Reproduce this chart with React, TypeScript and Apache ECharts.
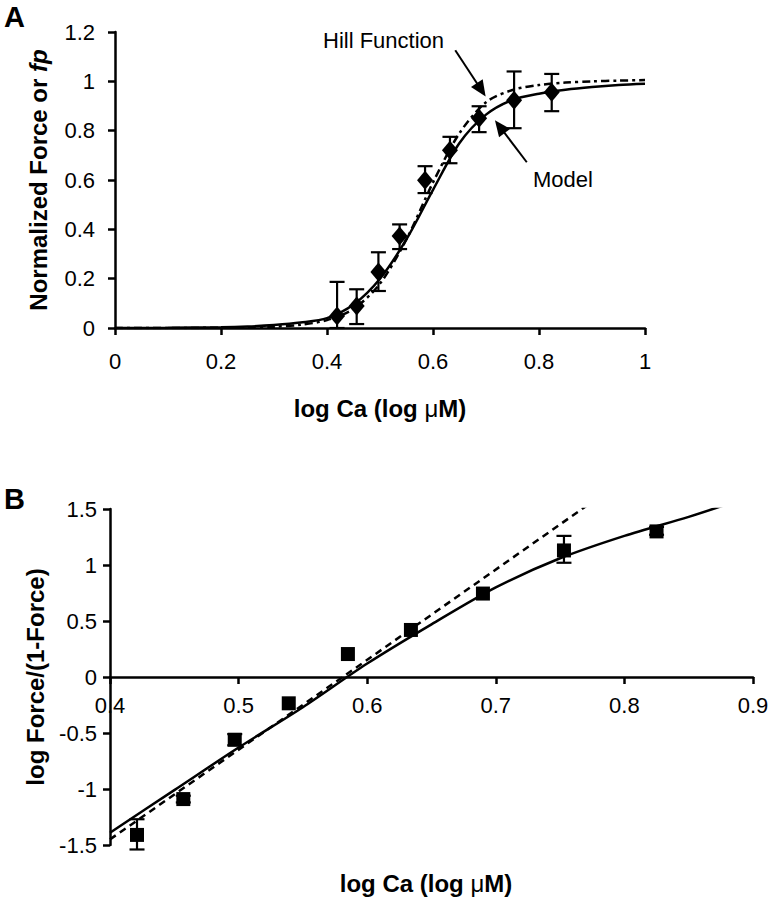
import React, { useEffect, useRef } from "react";
import * as echarts from "echarts";

// ---------- Panel A data ----------
const aX = [0.419, 0.456, 0.497, 0.537, 0.585, 0.632, 0.687, 0.753, 0.824];
const aY = [0.049, 0.089, 0.227, 0.373, 0.599, 0.721, 0.85, 0.923, 0.956];
const aLow = [0, 0.016, 0.15, 0.32, 0.547, 0.668, 0.794, 0.81, 0.879];
const aHigh = [0.187, 0.157, 0.307, 0.42, 0.656, 0.775, 0.899, 1.04, 1.03];

const aCurveX = [0, 0.1, 0.2, 0.25, 0.3, 0.35, 0.4, 0.45, 0.5, 0.55, 0.6, 0.65, 0.7, 0.75, 0.8, 0.85, 0.9, 0.95, 1.0];
const aModelY = [0, 0.001, 0.003, 0.006, 0.012, 0.022, 0.04, 0.095, 0.2, 0.36, 0.56, 0.75, 0.865, 0.925, 0.95, 0.966, 0.977, 0.985, 0.99];
const aHillY = [0, 0, 0.001, 0.002, 0.005, 0.013, 0.032, 0.077, 0.18, 0.36, 0.59, 0.79, 0.915, 0.965, 0.985, 0.995, 1.0, 1.003, 1.005];

// arrows (tail -> head) in data coords of panel A
const hillArrow = [[0.642, 1.126], [0.691, 0.966]];
const modelArrow = [[0.777, 0.672], [0.726, 0.816]];

// ---------- Panel B data ----------
const bX = [0.421, 0.457, 0.497, 0.539, 0.585, 0.634, 0.69, 0.753, 0.825];
const bY = [-1.41, -1.09, -0.56, -0.235, 0.205, 0.42, 0.745, 1.13, 1.3];
const bLow = [-1.54, -1.12, -0.61, -0.235, 0.205, 0.42, 0.745, 1.02, 1.27];
const bHigh = [-1.27, -1.06, -0.51, -0.235, 0.205, 0.42, 0.745, 1.26, 1.34];

const bModelX = [0.4, 0.45, 0.5, 0.55, 0.6, 0.65, 0.7, 0.75, 0.8, 0.85, 0.882];
const bModelY = [-1.39, -1.01, -0.63, -0.27, 0.12, 0.47, 0.8, 1.06, 1.26, 1.43, 1.55];
const bHillX = [0.4, 0.581, 0.772];
const bHillY = [-1.45, 0, 1.54];

const FONT = "'Liberation Sans', Arial, Helvetica, sans-serif";

function errorBarSeries(xIndex: number, xs: number[], lows: number[], highs: number[]) {
  return {
    type: "custom",
    xAxisIndex: xIndex,
    yAxisIndex: xIndex,
    z: 3,
    silent: true,
    data: xs.map((x, i) => [x, lows[i], highs[i]]),
    renderItem: (params: any, api: any) => {
      const x = api.value(0);
      const lo = api.value(1);
      const hi = api.value(2);
      if (hi - lo < 1e-9) return { type: "group", children: [] };
      const pTop = api.coord([x, hi]);
      const pBot = api.coord([x, lo]);
      const hw = 7.5;
      const st = { stroke: "#000", lineWidth: 2.2 };
      return {
        type: "group",
        children: [
          { type: "line", shape: { x1: pTop[0], y1: pTop[1], x2: pBot[0], y2: pBot[1] }, style: st },
          { type: "line", shape: { x1: pTop[0] - hw, y1: pTop[1], x2: pTop[0] + hw, y2: pTop[1] }, style: st },
          { type: "line", shape: { x1: pBot[0] - hw, y1: pBot[1], x2: pBot[0] + hw, y2: pBot[1] }, style: st },
        ],
      };
    },
  };
}

export default function App() {
  const ref = useRef<HTMLDivElement>(null);
  useEffect(() => {
    document.body.style.margin = "0";
    if (!ref.current) return;
    const chart = echarts.init(ref.current, null, { renderer: "svg" });
    const axisCommon = {
      axisLine: { show: true, onZero: false, lineStyle: { color: "#000", width: 2.5 } },
      axisTick: { show: true, inside: false, length: 7, lineStyle: { color: "#000", width: 2.5 } },
      splitLine: { show: false },
      axisLabel: { color: "#000", fontSize: 22, fontFamily: FONT, hideOverlap: false },
    };
    const option: any = {
      animation: false,
      backgroundColor: "#fff",
      grid: [
        { left: 115, top: 32, width: 530, height: 296 },
        { left: 110, top: 509, width: 643, height: 336 },
      ],
      xAxis: [
        { ...axisCommon, gridIndex: 0, type: "value", min: 0, max: 1, interval: 0.2,
          axisLabel: { ...axisCommon.axisLabel, margin: 22 } },
        { ...axisCommon, gridIndex: 1, type: "value", min: 0.4, max: 0.9, interval: 0.1,
          position: "bottom", offset: -168,
          axisLabel: { ...axisCommon.axisLabel, margin: 17 } },
      ],
      yAxis: [
        { ...axisCommon, gridIndex: 0, type: "value", min: 0, max: 1.2, interval: 0.2,
          axisLabel: { ...axisCommon.axisLabel, margin: 20 } },
        { ...axisCommon, gridIndex: 1, type: "value", min: -1.5, max: 1.5, interval: 0.5,
          axisLabel: { ...axisCommon.axisLabel, margin: 13 } },
      ],
      series: [
        // Panel A
        {
          type: "line", xAxisIndex: 0, yAxisIndex: 0, name: "Hill Function",
          data: aCurveX.map((x, i) => [x, aHillY[i]]),
          smooth: 0.3, showSymbol: false, z: 2,
          lineStyle: { color: "#000", width: 2.5, type: [8, 4, 3, 4] },
        },
        {
          type: "line", xAxisIndex: 0, yAxisIndex: 0, name: "Model",
          data: aCurveX.map((x, i) => [x, aModelY[i]]),
          smooth: 0.3, showSymbol: false, z: 2,
          lineStyle: { color: "#000", width: 2.5 },
          markLine: {
            silent: true,
            symbol: ["none", "triangle"],
            symbolSize: [14, 16],
            label: { show: false },
            lineStyle: { color: "#000", width: 2, type: "solid" },
            data: [
              [{ coord: hillArrow[0] }, { coord: hillArrow[1] }],
              [{ coord: modelArrow[0] }, { coord: modelArrow[1] }],
            ],
          },
        },
        errorBarSeries(0, aX, aLow, aHigh),
        {
          type: "scatter", xAxisIndex: 0, yAxisIndex: 0, name: "Data",
          data: aX.map((x, i) => [x, aY[i]]),
          symbol: "diamond", symbolSize: [16, 19], z: 4,
          itemStyle: { color: "#000", opacity: 1 },
        },
        // Panel B
        {
          type: "line", xAxisIndex: 1, yAxisIndex: 1, name: "Hill Function B",
          data: bHillX.map((x, i) => [x, bHillY[i]]),
          showSymbol: false, z: 2,
          lineStyle: { color: "#000", width: 2.5, type: [7, 5] },
        },
        {
          type: "line", xAxisIndex: 1, yAxisIndex: 1, name: "Model B",
          data: bModelX.map((x, i) => [x, bModelY[i]]),
          smooth: 0.3, showSymbol: false, z: 2,
          lineStyle: { color: "#000", width: 2.5 },
        },
        errorBarSeries(1, bX, bLow, bHigh),
        {
          type: "scatter", xAxisIndex: 1, yAxisIndex: 1, name: "Data B",
          data: bX.map((x, i) => [x, bY[i]]),
          symbol: "rect", symbolSize: 14, z: 4,
          itemStyle: { color: "#000", opacity: 1 },
        },
      ],
      graphic: [
        { type: "text", x: 4, y: 17, style: { text: "A", fontSize: 29, fontWeight: "bold", fontFamily: FONT, fill: "#000", verticalAlign: "middle" } },
        { type: "text", x: 4, y: 499, style: { text: "B", fontSize: 29, fontWeight: "bold", fontFamily: FONT, fill: "#000", verticalAlign: "middle" } },
        { type: "text", x: 323, y: 40, style: { text: "Hill Function", fontSize: 22, fontFamily: FONT, fill: "#000", verticalAlign: "middle" } },
        { type: "text", x: 533, y: 179, style: { text: "Model", fontSize: 22, fontFamily: FONT, fill: "#000", verticalAlign: "middle" } },
        {
          type: "text", x: 380, y: 408,
          style: {
            text: "{b|log Ca (log }{m|μ}{b|M)}", align: "center", verticalAlign: "middle", fill: "#000",
            rich: { b: { fontSize: 24, fontWeight: "bold", fontFamily: FONT }, m: { fontSize: 24, fontFamily: FONT } },
          },
        },
        {
          type: "text", x: 426, y: 883,
          style: {
            text: "{b|log Ca (log }{m|μ}{b|M)}", align: "center", verticalAlign: "middle", fill: "#000",
            rich: { b: { fontSize: 24, fontWeight: "bold", fontFamily: FONT }, m: { fontSize: 24, fontFamily: FONT } },
          },
        },
        {
          type: "text", x: 38, y: 180, rotation: Math.PI / 2,
          style: {
            text: "{b|Normalized Force or }{i|fp}", align: "center", verticalAlign: "middle", fill: "#000",
            rich: { b: { fontSize: 24, fontWeight: "bold", fontFamily: FONT }, i: { fontSize: 24, fontWeight: "bold", fontStyle: "italic", fontFamily: FONT } },
          },
        },
        {
          type: "text", x: 35, y: 677, rotation: Math.PI / 2,
          style: { text: "log Force/(1-Force)", fontSize: 24, fontWeight: "bold", fontFamily: FONT, fill: "#000", align: "center", verticalAlign: "middle" },
        },
      ],
    };
    chart.setOption(option);
    return () => chart.dispose();
  }, []);
  return <div ref={ref} style={{ width: 774, height: 900 }} />;
}
